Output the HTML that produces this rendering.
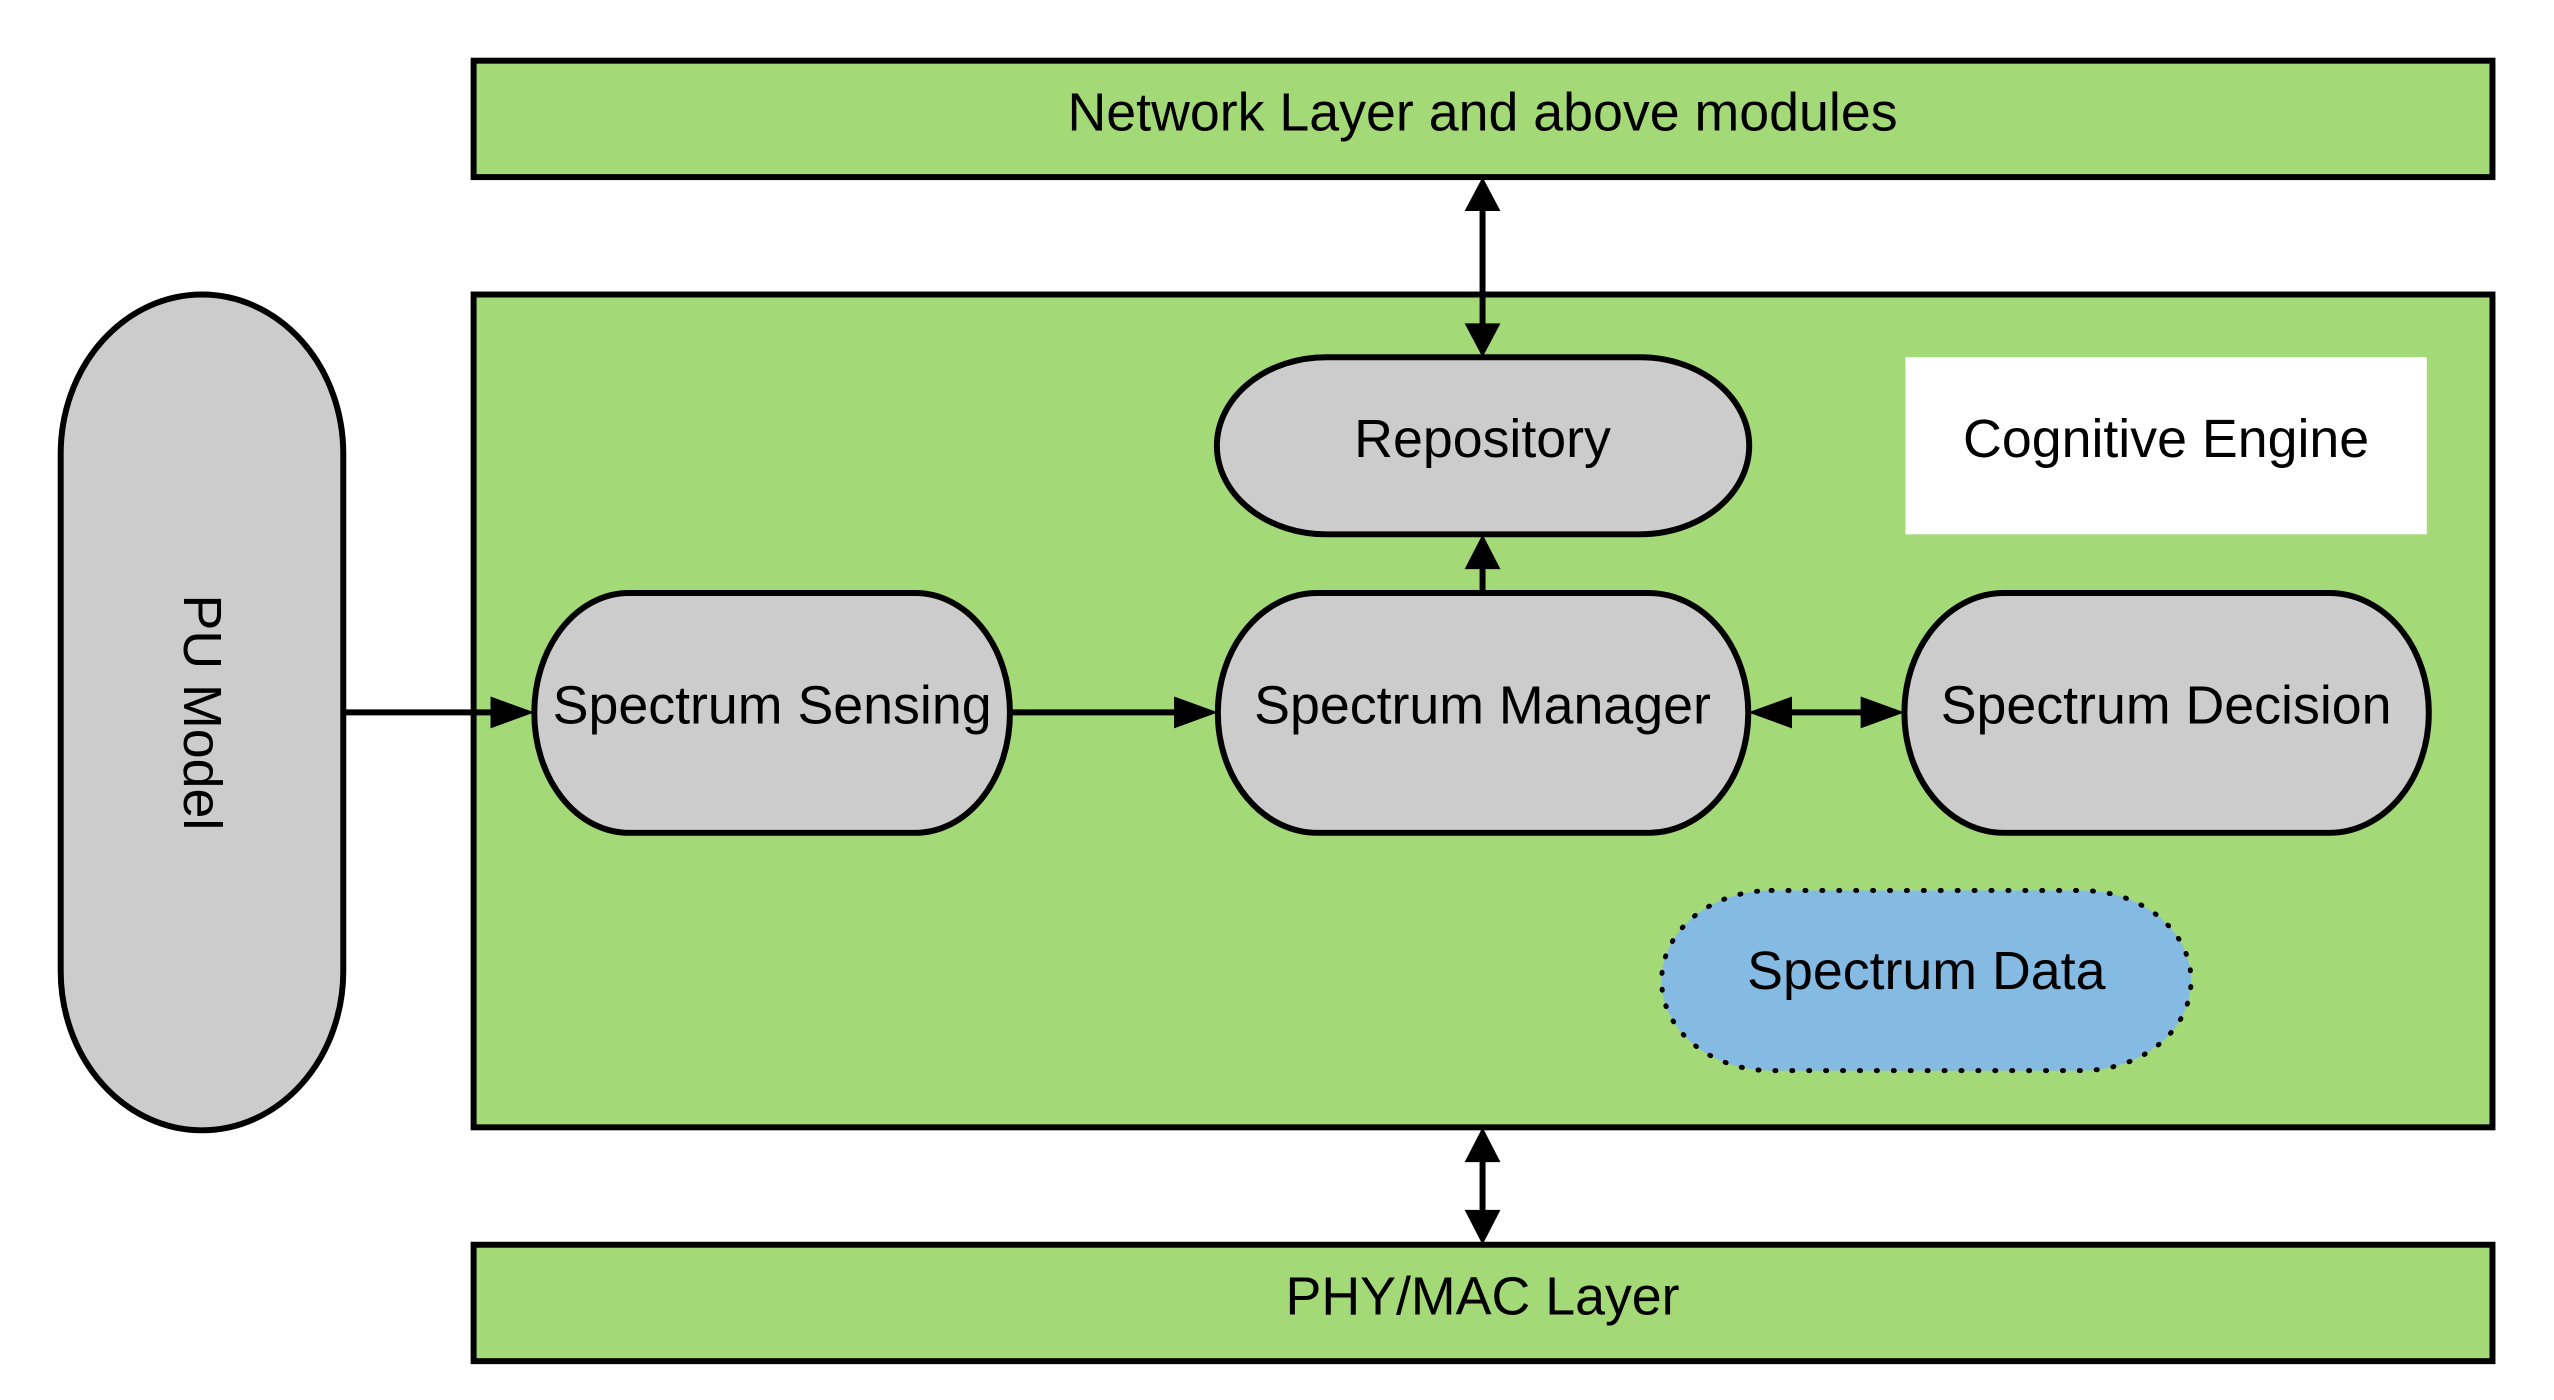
<!DOCTYPE html>
<html><head><meta charset="utf-8"><style>
html,body{margin:0;padding:0;background:#fff;}
svg{display:block;}
text{font-family:"Liberation Sans",Arial,sans-serif;font-size:54px;fill:#000;}
</style></head><body>
<svg width="2554" height="1400" viewBox="0 0 2554 1400" xmlns="http://www.w3.org/2000/svg">
<g transform="scale(0.995)">
<g stroke="#000" stroke-width="6">
<rect x="476" y="61" width="2029" height="117" fill="#a3d977"/>
<rect x="476" y="296" width="2029" height="837" fill="#a3d977"/>
<rect x="476" y="1251" width="2029" height="117" fill="#a3d977"/>
<rect x="61" y="296" width="284" height="840" rx="142" ry="160" fill="#cccccc"/>
<rect x="537" y="596" width="478" height="241" rx="95" ry="120" fill="#cccccc"/>
<rect x="1224" y="596" width="533" height="241" rx="100" ry="120" fill="#cccccc"/>
<rect x="1914" y="596" width="527" height="241" rx="100" ry="120" fill="#cccccc"/>
<rect x="1223" y="359" width="535" height="178" rx="110" ry="89" fill="#cccccc"/>
</g>
<rect x="1915" y="359" width="524" height="178" fill="#fff"/>
<rect x="1670" y="895" width="532" height="181" rx="110" ry="90" fill="#85bbe3" stroke="#000" stroke-width="5" stroke-dasharray="1 16" stroke-linecap="round"/>
<g stroke="#000" stroke-width="6" fill="none">
<line x1="345" y1="716" x2="505" y2="716"/>
<line x1="1015" y1="716" x2="1195" y2="716"/>
<line x1="1785" y1="716" x2="1886" y2="716"/>
<line x1="1490" y1="205" x2="1490" y2="330"/>
<line x1="1490" y1="565" x2="1490" y2="596"/>
<line x1="1490" y1="1160" x2="1490" y2="1225"/>
</g>
<g fill="#000">
<polygon points="537,716 493,700 493,732"/>
<polygon points="1224,716 1180,700 1180,732"/>
<polygon points="1914,716 1870,700 1870,732"/>
<polygon points="1757,716 1801,700 1801,732"/>
<polygon points="1490,178 1472,212 1508,212"/>
<polygon points="1490,359 1472,325 1508,325"/>
<polygon points="1490,537 1472,572 1508,572"/>
<polygon points="1490,1133 1472,1168 1508,1168"/>
<polygon points="1490,1251 1472,1216 1508,1216"/>
</g>
<g text-anchor="middle" dominant-baseline="central">
<text x="1490" y="113">Network Layer and above modules</text>
<text x="1490" y="1303">PHY/MAC Layer</text>
<text x="1490" y="441">Repository</text>
<text x="2177" y="441">Cognitive Engine</text>
<text x="776" y="709">Spectrum Sensing</text>
<text x="1490" y="709">Spectrum Manager</text>
<text x="2177" y="709">Spectrum Decision</text>
<text x="1936" y="976">Spectrum Data</text>
<text x="0" y="0" transform="translate(203,716) rotate(90)">PU Model</text>
</g>
</g>
</svg>
</body></html>
